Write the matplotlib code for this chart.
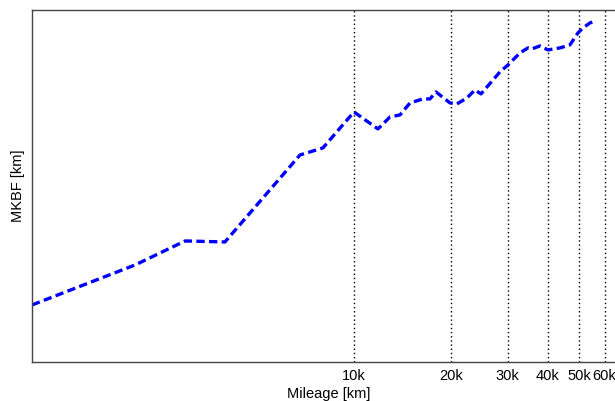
import matplotlib
matplotlib.use("Agg")
import matplotlib.pyplot as plt
from matplotlib.ticker import FixedLocator, FixedFormatter, NullLocator

plt.rcParams['font.family'] = ['Liberation Sans', 'DejaVu Sans']

# mileage [km] and mean km between failures [km]
mileage = [1000, 2090, 2990, 3975, 6800, 8010, 10000, 11870, 12940, 13900,
           14930, 16380, 17220, 17980, 19870, 20890, 22440, 23760, 24800,
           28400, 30090, 32780, 34710, 35710, 37800, 40040, 43630, 46860,
           49620, 51430, 54060, 56430]
mkbf = [5700, 9700, 12100, 12000, 20700, 21400, 25000, 23300, 24500, 24700,
        25900, 26300, 26300, 27000, 25900, 25800, 26400, 27200, 26800,
        29000, 29700, 30900, 31400, 31300, 31600, 31200, 31400, 31700,
        32900, 33400, 33900, 34100]

tick_vals = [10000, 20000, 30000, 40000, 50000, 60000]
tick_labels = ["10k", "20k", "30k", "40k", "50k", "60k"]

fig = plt.figure(figsize=(6.15, 4.01), dpi=100)
ax = fig.add_axes([0.052, 0.0973, 0.966, 0.878])

ax.plot(mileage, mkbf, color="#0000ff", linewidth=2.4, linestyle="--",
        dashes=(2.5, 1.3))

ax.set_xscale("log")
ax.set_xlim(1000, 70000)
ax.set_ylim(0, 35200)

ax.xaxis.set_major_locator(FixedLocator(tick_vals))
ax.xaxis.set_major_formatter(FixedFormatter(tick_labels))
ax.xaxis.set_minor_locator(NullLocator())
ax.set_yticks([])
ax.tick_params(axis="x", length=0, pad=5, labelsize=10.5)

ax.grid(True, axis="x", which="major", color="black", linestyle=(0, (1, 2)),
        linewidth=1.0)

for s in ax.spines.values():
    s.set_color("#444444")
    s.set_linewidth(1.0)

ax.set_xlabel("Mileage [km]", fontsize=10.5, labelpad=3)
ax.set_ylabel("MKBF [km]", fontsize=10.5, labelpad=5)

fig.savefig("out.png", dpi=100)
